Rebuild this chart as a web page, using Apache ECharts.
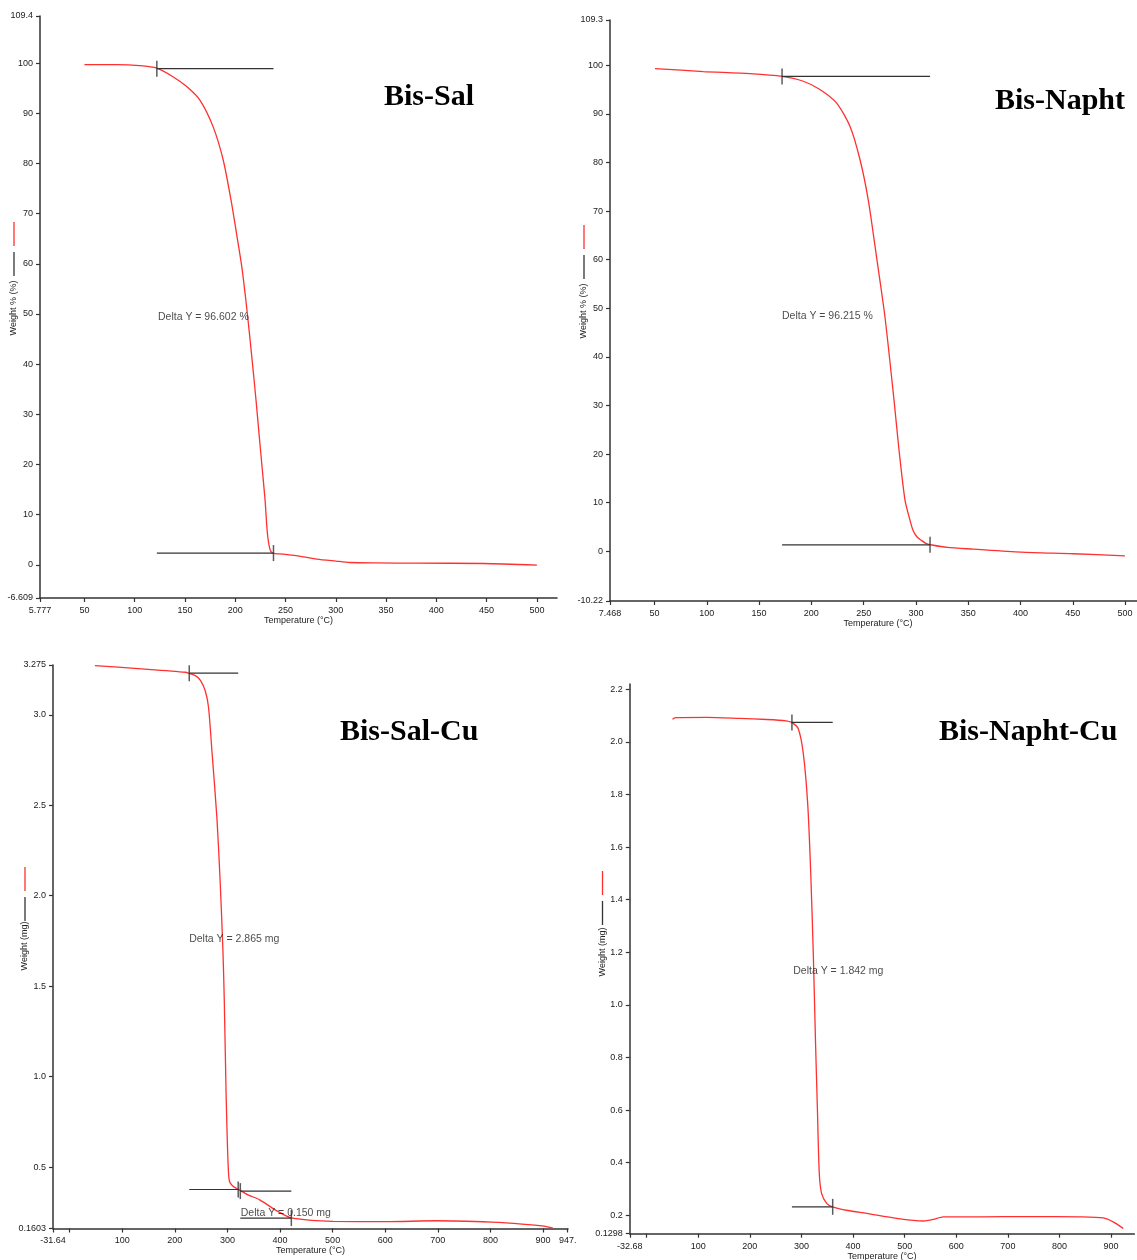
<!DOCTYPE html>
<html>
<head>
<meta charset="utf-8">
<script src="https://cdn.jsdelivr.net/npm/echarts@6/dist/echarts.min.js"></script>
<style>
  html, body { margin: 0; padding: 0; background: #fff; }
  #main { width: 1137px; height: 1260px; }
</style>
</head>
<body>
<div id="main"></div>
<script>
// ---- data ----
// Bis-Sal
var salT = [50, 82, 105, 122, 138, 152, 165, 178, 188, 195.8, 201.2, 206.5, 210.5, 214.05, 217.4, 220.6, 223.6, 226.6, 229.6, 231.9, 234.5, 237.2, 247.7, 265, 281, 300, 314, 340, 380, 447, 500];
var salW = [99.7, 99.7, 99.5, 99.0, 97.3, 95.3, 92.6, 87.3, 80.7, 72.7, 66.1, 59.4, 52.8, 46.2, 39.5, 32.9, 26.2, 19.6, 13.0, 6.4, 3.1, 2.35, 2.13, 1.7, 1.16, 0.75, 0.47, 0.38, 0.33, 0.27, -0.06];
// Bis-Napht
var naphT = [50.5, 96.7, 141.3, 171.9, 192.3, 208.2, 224.2, 237, 246.5, 254.4, 262.7, 270.4, 279, 283.8, 289.5, 294.2, 297.1, 300.9, 305.5, 310, 315.3, 330, 354.8, 400.4, 450.4, 499.8];
var naphW = [99.3, 98.7, 98.25, 97.7, 96.7, 95.0, 92.2, 87.4, 80.6, 72.3, 60, 48.2, 31.2, 20.9, 10.6, 6.5, 4.4, 3.0, 2.2, 1.6, 1.3, 0.8, 0.45, -0.16, -0.5, -0.93];
// Bis-Sal-Cu
var salCuT = [48, 130, 220, 227.4, 238.8, 248.3, 257.8, 264.1, 270.5, 280, 286.3, 291.4, 294, 297.5, 300, 302, 304, 310, 321.7, 340, 360.5, 395.6, 420, 460, 501, 600, 698, 803, 860, 902, 919];
var salCuW = [3.272, 3.255, 3.235, 3.228, 3.216, 3.192, 3.133, 3.04, 2.80, 2.43, 2.07, 1.70, 1.42, 0.9, 0.62, 0.47, 0.42, 0.395, 0.375, 0.345, 0.32, 0.255, 0.22, 0.205, 0.2, 0.198, 0.203, 0.195, 0.185, 0.173, 0.162];
// Bis-Napht-Cu
var naphCuT = [50, 56, 116, 180, 232.6, 270, 281, 293.8, 303.5, 312, 317.8, 322.9, 327.2, 330.8, 334.5, 339, 348.8, 359.7, 390, 426.4, 484.5, 536, 555.5, 574.8, 646, 740, 840, 885, 904, 923.6];
var naphCuW = [2.086, 2.092, 2.093, 2.089, 2.085, 2.08, 2.074, 2.05, 1.956, 1.766, 1.51, 1.195, 0.86, 0.61, 0.36, 0.283, 0.245, 0.232, 0.218, 0.207, 0.188, 0.178, 0.184, 0.194, 0.194, 0.195, 0.194, 0.19, 0.175, 0.15];

// step analyses: [start T, end T, weight at start, weight at end]
var salSteps = [[122, 238, 98.9, 2.35]];
var naphSteps = [[172, 313.5, 97.7, 1.34]];
var salCuSteps = [[227.4, 320.5, 3.23, 0.376], [324.5, 421.5, 0.367, 0.218]];
var naphCuSteps = [[281.5, 360.5, 2.074, 0.232]];

// annotations: [T, weight, text]
var salNotes = [[123.1, 49.4, 'Delta Y = 96.602 %']];
var naphNotes = [[171.9, 48.3, 'Delta Y = 96.215 %']];
var salCuNotes = [[227.2, 1.76, 'Delta Y = 2.865 mg'], [325.3, 0.246, 'Delta Y = 0.150 mg']];
var naphCuNotes = [[284.1, 1.128, 'Delta Y = 1.842 mg']];

// tick labels
var salX = ['5.777', '50', '100', '150', '200', '250', '300', '350', '400', '450', '500'];
var salY = ['-6.609', '0', '10', '20', '30', '40', '50', '60', '70', '80', '90', '100', '109.4'];
var naphX = ['7.468', '50', '100', '150', '200', '250', '300', '350', '400', '450', '500'];
var naphY = ['-10.22', '0', '10', '20', '30', '40', '50', '60', '70', '80', '90', '100', '109.3'];
var salCuX = ['-31.64', '100', '200', '300', '400', '500', '600', '700', '800', '900', '947.'];
var salCuY = ['0.1603', '0.5', '1.0', '1.5', '2.0', '2.5', '3.0', '3.275'];
var naphCuX = ['-32.68', '100', '200', '300', '400', '500', '600', '700', '800', '900'];
var naphCuY = ['0.1298', '0.2', '0.4', '0.6', '0.8', '1.0', '1.2', '1.4', '1.6', '1.8', '2.0', '2.2'];

var FONT = '"Liberation Sans", Arial, sans-serif';
var INK = '#333';

var panels = [
  { title: 'Bis-Sal', tx: 384, ty: 82, grid: { left: 40, top: 16, width: 517, height: 582 },
    xMin: 5.777, xMax: 520, yMin: -6.609, yMax: 109.4, xLab: salX, xTick: [], yLab: salY,
    t: salT, w: salW, steps: salSteps, notes: salNotes,
    yName: 'Weight % (%)', nx: 14, ny: 308, legY: 222, nameGap: 18.5 },
  { title: 'Bis-Napht', tx: 995, ty: 86, grid: { left: 610, top: 20, width: 536, height: 581 },
    xMin: 7.468, xMax: 520, yMin: -10.22, yMax: 109.3, xLab: naphX, xTick: [], yLab: naphY,
    t: naphT, w: naphW, steps: naphSteps, notes: naphNotes,
    yName: 'Weight % (%)', nx: 584, ny: 311, legY: 225, nameGap: 18.5 },
  { title: 'Bis-Sal-Cu', tx: 340, ty: 717, grid: { left: 53, top: 665, width: 515, height: 563.5 },
    xMin: -31.64, xMax: 947.5, yMin: 0.1603, yMax: 3.275, xLab: salCuX, xTick: [0], yLab: salCuY,
    t: salCuT, w: salCuW, steps: salCuSteps, notes: salCuNotes,
    yName: 'Weight (mg)', nx: 25, ny: 946, legY: 867, nameGap: 17 },
  { title: 'Bis-Napht-Cu', tx: 939, ty: 717, grid: { left: 629.8, top: 684, width: 504.5, height: 549.7 },
    xMin: -32.68, xMax: 945, yMin: 0.1298, yMax: 2.22, xLab: naphCuX, xTick: [0], yLab: naphCuY,
    t: naphCuT, w: naphCuW, steps: naphCuSteps, notes: naphCuNotes,
    yName: 'Weight (mg)', nx: 602.5, ny: 952, legY: 871, nameGap: 17 }
];

function labelFor(list) {
  return function(v) {
    for (var i = 0; i < list.length; i++) {
      if (Math.abs(Number(list[i]) - v) < 1e-6) return list[i];
    }
    return '';
  };
}

var grids = [], xAxes = [], yAxes = [], series = [], titles = [], graphics = [];

panels.forEach(function(p, i) {
  grids.push({ left: p.grid.left, top: p.grid.top, width: p.grid.width, height: p.grid.height,
    containLabel: false, outerBoundsMode: 'none' });

  var xVals = p.xLab.map(Number);
  xAxes.push({
    gridIndex: i, type: 'value', min: p.xMin, max: p.xMax,
    name: 'Temperature (°C)', nameLocation: 'middle', nameGap: p.nameGap,
    nameTextStyle: { fontFamily: FONT, fontSize: 9, color: '#222' },
    axisLine: { onZero: false, lineStyle: { color: INK, width: 1.5 } },
    axisTick: { show: true, length: 4, customValues: xVals.concat(p.xTick), lineStyle: { color: INK, width: 1.2 } },
    axisLabel: { customValues: xVals, formatter: labelFor(p.xLab), fontFamily: FONT, fontSize: 9, color: '#1a1a1a', margin: 8 },
    splitLine: { show: false }
  });

  var yVals = p.yLab.map(Number);
  yAxes.push({
    gridIndex: i, type: 'value', min: p.yMin, max: p.yMax,
    axisLine: { onZero: false, lineStyle: { color: INK, width: 1.5 } },
    axisTick: { show: true, length: 4, customValues: yVals, lineStyle: { color: INK, width: 1.2 } },
    axisLabel: { customValues: yVals, formatter: labelFor(p.yLab), fontFamily: FONT, fontSize: 9, color: '#1a1a1a', margin: 7 },
    splitLine: { show: false }
  });

  // weight curve
  series.push({
    type: 'line', xAxisIndex: i, yAxisIndex: i, z: 3,
    data: p.t.map(function(t, k) { return [t, p.w[k]]; }),
    smooth: 0.25, symbol: 'none', silent: true,
    lineStyle: { color: '#ff3030', width: 1.3 }
  });

  // step analysis lines and end ticks
  var ticks = [];
  p.steps.forEach(function(s) {
    [s[2], s[3]].forEach(function(y) {
      series.push({
        type: 'line', xAxisIndex: i, yAxisIndex: i, z: 4, symbol: 'none', silent: true,
        data: [[s[0], y], [s[1], y]],
        lineStyle: { color: INK, width: 1.2 }
      });
    });
    ticks.push([s[0], s[2]], [s[1], s[3]]);
  });
  series.push({
    type: 'scatter', xAxisIndex: i, yAxisIndex: i, z: 5, silent: true,
    data: ticks, symbol: 'rect', symbolSize: [1.5, 16],
    itemStyle: { color: INK }
  });

  // Delta Y texts
  series.push({
    type: 'scatter', xAxisIndex: i, yAxisIndex: i, z: 6, silent: true, symbolSize: 0,
    data: p.notes.map(function(n) { return { value: [n[0], n[1]], label: { formatter: n[2] } }; }),
    label: { show: true, position: 'right', distance: 0, fontFamily: FONT, fontSize: 10.5, color: '#1a1a1a' }
  });

  titles.push({
    text: p.title, left: p.tx, top: p.ty, padding: 0,
    textStyle: { fontFamily: '"Liberation Serif", "Times New Roman", serif', fontWeight: 'bold', fontSize: 30, color: '#000' }
  });

  // y axis name and the little legend strokes beside it
  graphics.push({
    type: 'text', x: p.nx, y: p.ny, rotation: Math.PI / 2,
    style: { text: p.yName, fontFamily: FONT, fontSize: 9, fill: '#222', align: 'center', verticalAlign: 'middle' }
  });
  graphics.push({
    type: 'line', shape: { x1: p.nx, y1: p.legY, x2: p.nx, y2: p.legY + 24 },
    style: { stroke: '#ff3030', lineWidth: 1.3 }
  });
  graphics.push({
    type: 'line', shape: { x1: p.nx, y1: p.legY + 30, x2: p.nx, y2: p.legY + 54 },
    style: { stroke: INK, lineWidth: 1.3 }
  });
});

var chart = echarts.init(document.getElementById('main'));
chart.setOption({
  animation: false,
  backgroundColor: '#fff',
  title: titles,
  grid: grids,
  xAxis: xAxes,
  yAxis: yAxes,
  series: series,
  graphic: graphics
});
</script>
</body>
</html>
